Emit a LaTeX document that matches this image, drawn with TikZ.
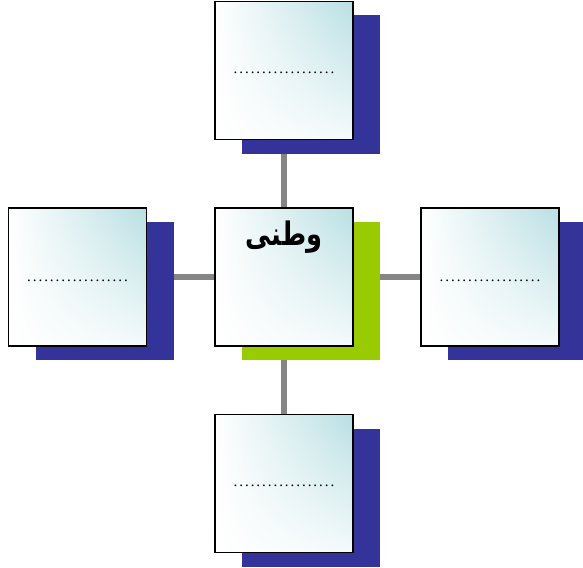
\documentclass[tikz,border=0pt]{standalone}
\usepackage{fontspec}
\setmainfont{Liberation Serif}
\newfontfamily\arabicfont[Script=Arabic]{DejaVu Sans}
\TeXXeTstate=1
\usetikzlibrary{calc,shadings}
\definecolor{shadowblue}{HTML}{333399}
\definecolor{shadowgreen}{HTML}{99CC00}
\definecolor{tealtint}{HTML}{B9DFE3}
\definecolor{paletint}{HTML}{F4FAFB}
\definecolor{linkgray}{HTML}{858585}
\newcommand{\dotrow}{\hbox to 102.6pt{\fontsize{15pt}{16pt}\selectfont\leaders\hbox to 5.7pt{\hss.\hss}\hfill}}
\tikzset{
  card/.style={draw=black, line width=1.6pt, minimum width=138pt, minimum height=138pt,
    inner sep=0pt, shading=bilinear interpolation,
    upper left=white, upper right=tealtint, lower left=white, lower right=paletint},
  link/.style={draw=linkgray, line width=5.5pt},
  dotlabel/.style={inner sep=0pt}
}
\begin{document}
\begin{tikzpicture}[x=1pt,y=-1pt]
\useasboundingbox (0,0) rectangle (583,567);
\coordinate (cpos) at (284,277);
\coordinate (tpos) at (284,70.5);
\coordinate (bpos) at (284,483.5);
\coordinate (lpos) at (77.5,277);
\coordinate (rpos) at (490,277);
% connector ends
\path (tpos) ++(0,69) coordinate (tb);
\path (cpos) ++(0,-69) coordinate (ct);
\path (cpos) ++(0,69) coordinate (cb);
\path (bpos) ++(0,-69) coordinate (bt);
\path (lpos) ++(69,0) coordinate (lr);
\path (cpos) ++(-69,0) coordinate (cl);
\path (cpos) ++(69,0) coordinate (cr);
\path (rpos) ++(-69,0) coordinate (rl);
\draw[link] (tb) -- (ct);
\draw[link] (cb) -- (bt);
\draw[link] (lr) -- (cl);
\draw[link] (cr) -- (rl);
% shadows
\foreach \p/\c in {tpos/shadowblue, bpos/shadowblue, lpos/shadowblue, rpos/shadowblue, cpos/shadowgreen}{
  \fill[\c] ($(\p)+(-42,-55)$) rectangle ($(\p)+(96,83)$);
}
% cards
\node[card] (top) at (tpos) {};
\node[card] (bottom) at (bpos) {};
\node[card] (left) at (lpos) {};
\node[card] (right) at (rpos) {};
\node[card] (center) at (cpos) {};
% texts
\node[dotlabel] (ttext) at ($(top.center)+(0,2.5)$) {\dotrow};
\node[dotlabel] (btext) at ($(bottom.center)+(0,2.5)$) {\dotrow};
\node[dotlabel] (ltext) at ($(left.center)+(0,3.5)$) {\dotrow};
\node[dotlabel] (rtext) at ($(right.center)+(0,3.5)$) {\dotrow};
\node[inner sep=0pt, font=\arabicfont\bfseries\fontsize{27pt}{32pt}\selectfont] (ctext) at (284,237) {\scalebox{0.95}[1.2]{\beginR وطنی\endR}};
\end{tikzpicture}
\end{document}
